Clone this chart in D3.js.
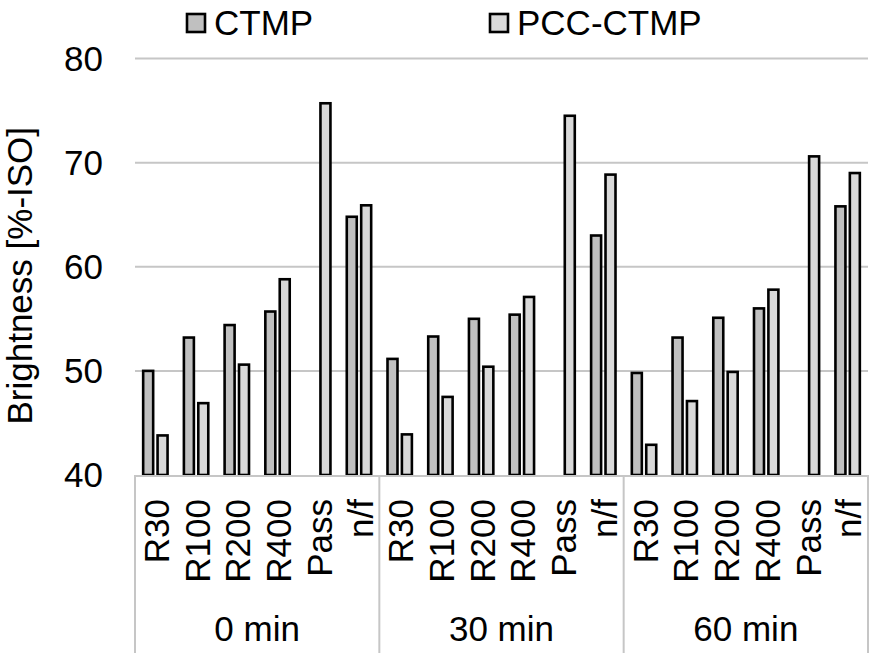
<!DOCTYPE html>
<html>
<head>
<meta charset="utf-8">
<script src="https://cdn.jsdelivr.net/npm/d3@7/dist/d3.min.js"></script>
<style>
  html, body { margin: 0; padding: 0; background: #fff; }
  svg { display: block; }
  text { font-family: "Liberation Sans", Arial, sans-serif; fill: #000; }
</style>
</head>
<body>
<div id="chart"></div>
<script>
const groups = ["0 min", "30 min", "60 min"];
const categories = ["R30", "R100", "R200", "R400", "Pass", "n/f"];
const seriesNames = ["CTMP", "PCC-CTMP"];
const ctmp0 = [50.0, 53.2, 54.4, 55.7, null, 64.8];
const pcc0 = [43.8, 46.9, 50.6, 58.8, 75.7, 65.9];
const ctmp30 = [51.15, 53.3, 55.0, 55.4, null, 63.0];
const pcc30 = [43.9, 47.5, 50.4, 57.1, 74.5, 68.85];
const ctmp60 = [49.8, 53.2, 55.1, 56.0, null, 65.8];
const pcc60 = [42.9, 47.1, 49.9, 57.8, 70.6, 69.0];
const yTicks = [40, 50, 60, 70, 80];
const yTitle = "Brightness [%-ISO]";

const W = 873, H = 653;
const plotL = 135, plotR = 868, plotT = 58.5, plotB = 475;
const colors = { "CTMP": "#c0c0c0", "PCC-CTMP": "#d9d9d9" };

const ctmpAll = [ctmp0, ctmp30, ctmp60];
const pccAll = [pcc0, pcc30, pcc60];
const rows = [];
groups.forEach((g, gi) => {
  categories.forEach((c, ci) => {
    rows.push({ key: g + "|" + c, group: g, cat: c,
      values: [
        { s: "CTMP", v: ctmpAll[gi][ci] },
        { s: "PCC-CTMP", v: pccAll[gi][ci] }
      ] });
  });
});

const svg = d3.select("#chart").append("svg").attr("width", W).attr("height", H);

const x0 = d3.scaleBand().domain(rows.map(d => d.key)).range([plotL, plotR]).padding(0);
const x1 = d3.scaleBand().domain(seriesNames).range([0, x0.bandwidth()]).paddingInner(0.306).paddingOuter(0.567);
const xg = d3.scaleBand().domain(groups).range([plotL, plotR]).padding(0);
const y = d3.scaleLinear().domain([40, 80]).range([plotB, plotT]);

// gridlines
svg.append("g").selectAll("line").data(yTicks.filter(t => t > 40)).join("line")
  .attr("x1", plotL).attr("x2", plotR)
  .attr("y1", d => y(d)).attr("y2", d => y(d))
  .attr("stroke", "#c6c6c6").attr("stroke-width", 2);

// y tick labels
svg.append("g").selectAll("text").data(yTicks).join("text")
  .attr("x", 103).attr("y", d => y(d)).attr("dy", "0.35em")
  .attr("text-anchor", "end").attr("font-size", 35)
  .text(d => d);

// y title
svg.append("text")
  .attr("transform", `translate(32,${(plotT + plotB) / 2 + 9}) rotate(-90)`)
  .attr("text-anchor", "middle").attr("font-size", 35)
  .text(yTitle);

// bars
const cg = svg.append("g").selectAll("g").data(rows).join("g")
  .attr("transform", d => `translate(${x0(d.key)},0)`);
cg.selectAll("rect").data(d => d.values.filter(e => e.v != null)).join("rect")
  .attr("x", d => x1(d.s)).attr("width", x1.bandwidth())
  .attr("y", d => y(d.v)).attr("height", d => y(40) - y(d.v))
  .attr("fill", d => colors[d.s]).attr("stroke", "#000").attr("stroke-width", 2.6);

// x axis line
svg.append("line").attr("x1", plotL).attr("x2", plotR).attr("y1", plotB + 1).attr("y2", plotB + 1)
  .attr("stroke", "#c6c6c6").attr("stroke-width", 2);

// group dividers
const divs = [plotL].concat(groups.map(g => xg(g) + xg.bandwidth()));
svg.append("g").selectAll("line").data(divs).join("line")
  .attr("x1", d => d).attr("x2", d => d).attr("y1", plotB).attr("y2", H)
  .attr("stroke", "#c6c6c6").attr("stroke-width", 2);

// category labels
svg.append("g").selectAll("text").data(rows).join("text")
  .attr("transform", d => `translate(${x0(d.key) + x0.bandwidth() / 2 + 1},499) rotate(-90)`)
  .attr("dy", "0.36em").attr("text-anchor", "end").attr("font-size", 35)
  .text(d => d.cat);

// group labels
svg.append("g").selectAll("text").data(groups).join("text")
  .attr("x", d => xg(d) + xg.bandwidth() / 2).attr("y", 641)
  .attr("text-anchor", "middle").attr("font-size", 35)
  .text(d => d);

// legend
const legendX = [186, 489];
const lg = svg.append("g").selectAll("g").data(seriesNames).join("g")
  .attr("transform", (d, i) => `translate(${legendX[i]},0)`);
lg.append("rect").attr("x", 1).attr("y", 14).attr("width", 18).attr("height", 18)
  .attr("fill", d => colors[d]).attr("stroke", "#000").attr("stroke-width", 2.6);
lg.append("text").attr("x", 28).attr("y", 35).attr("font-size", 35).text(d => d);
</script>
</body>
</html>
